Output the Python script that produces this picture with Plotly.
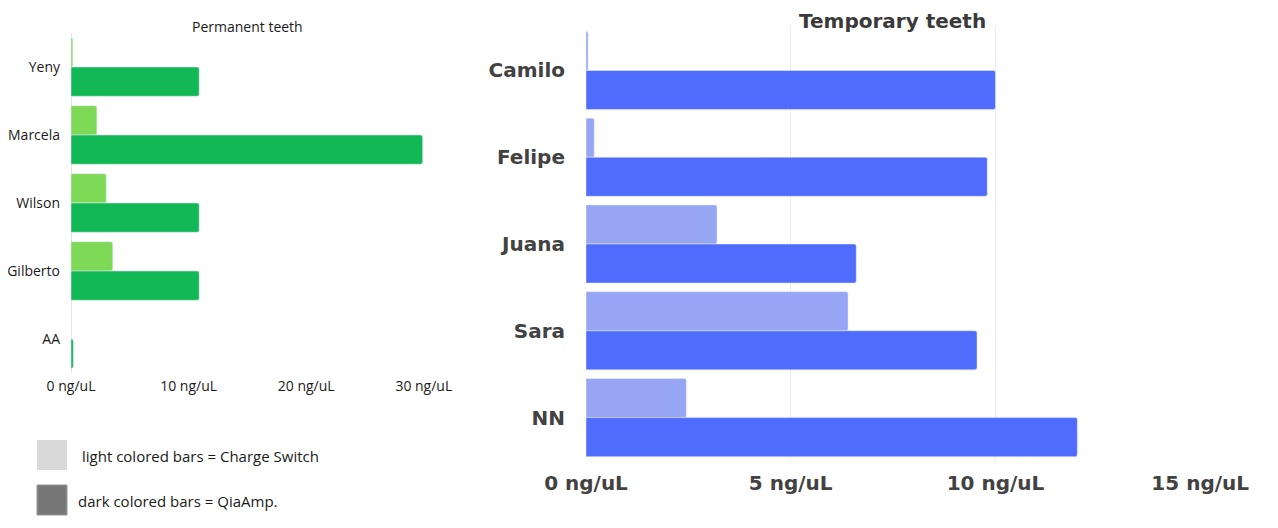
import plotly.graph_objects as go

W, H = 1278, 528
# the page body has an 8px margin, so the figure is drawn 8px in from the window edge
PAD = 8
FW, FH = W - 2 * PAD, H - 2 * PAD

# permanent teeth (ng/uL)
perm_names = ["Yeny", "Marcela", "Wilson", "Gilberto", "AA"]
perm_charge = [0.15, 2.2, 3.0, 3.55, 0.0]
perm_qia = [10.9, 29.9, 10.9, 10.9, 0.2]

# temporary teeth (ng/uL)
temp_names = ["Camilo", "Felipe", "Juana", "Sara", "NN"]
temp_charge = [0.05, 0.2, 3.2, 6.4, 2.45]
temp_qia = [10.0, 9.8, 6.6, 9.55, 12.0]

perm_ticks = [0, 10, 20, 30]
temp_ticks = [0, 5, 10, 15]


def px(x):
    return (x - PAD) / FW


def py(y):
    return 1 - (y - PAD) / FH


fig = go.Figure()

# left panel
fig.add_trace(go.Bar(y=perm_names, x=perm_charge, orientation="h", width=0.43, offset=-0.43,
                     marker=dict(color="#7ed957", cornerradius=2), xaxis="x", yaxis="y",
                     name="Charge Switch", showlegend=False, hoverinfo="x+y"))
fig.add_trace(go.Bar(y=perm_names, x=perm_qia, orientation="h", width=0.43, offset=0,
                     marker=dict(color="#12b856", cornerradius=2), xaxis="x", yaxis="y",
                     name="QiaAmp.", showlegend=False, hoverinfo="x+y"))

# right panel
fig.add_trace(go.Bar(y=temp_names, x=temp_charge, orientation="h", width=0.45, offset=-0.45,
                     marker=dict(color="#96a6f4", cornerradius=2), xaxis="x2", yaxis="y2",
                     name="Charge Switch", showlegend=False, hoverinfo="x+y"))
fig.add_trace(go.Bar(y=temp_names, x=temp_qia, orientation="h", width=0.45, offset=0,
                     marker=dict(color="#4f6cfc", cornerradius=2), xaxis="x2", yaxis="y2",
                     name="QiaAmp.", showlegend=False, hoverinfo="x+y"))

left_font = dict(family="Open Sans, sans-serif", size=14, color="#1a1a1a")
right_font = dict(family="DejaVu Sans, sans-serif", size=20, color="#424242", weight="bold")

fig.update_layout(
    width=FW, height=FH,
    margin=dict(l=0, r=0, t=0, b=0),
    paper_bgcolor="white", plot_bgcolor="white",
    barmode="overlay",
    xaxis=dict(domain=[px(71), px(425)], range=[0, 30.1], anchor="y", automargin=False,
               tickvals=perm_ticks, ticktext=[f"{v} ng/uL" for v in perm_ticks],
               showgrid=False, zeroline=True, zerolinecolor="#e4e4e4", zerolinewidth=1,
               tickfont=left_font, ticklabelstandoff=3, showline=False),
    yaxis=dict(domain=[py(373), py(33)], autorange="reversed", anchor="x", automargin=False,
               tickfont=left_font, ticklabelstandoff=10, showgrid=False, showline=False),
    xaxis2=dict(domain=[px(586), px(1201)], range=[0, 15.02], anchor="y2", automargin=False,
                tickvals=temp_ticks, ticktext=[f"{v} ng/uL" for v in temp_ticks],
                showgrid=True, gridcolor="#ececec", gridwidth=1, zeroline=False,
                tickfont=right_font, ticklabelstandoff=8, showline=False),
    yaxis2=dict(domain=[py(461), py(27)], autorange="reversed", anchor="x2", automargin=False,
                tickfont=right_font, ticklabelstandoff=20, showgrid=False, showline=False),
    annotations=[
        dict(text="Permanent teeth", x=px(247), y=py(26), xref="paper", yref="paper",
             showarrow=False, xanchor="center", yanchor="middle",
             font=dict(family="Open Sans, sans-serif", size=14, color="#1a1a1a")),
        dict(text="Temporary teeth", x=px(892), y=py(8), xref="paper", yref="paper",
             showarrow=False, xanchor="center", yanchor="top", borderpad=0,
             font=dict(family="DejaVu Sans, sans-serif", size=20, color="#3a3a3a", weight="bold")),
        dict(text="light colored bars = Charge Switch", x=px(80), y=py(456), xref="paper", yref="paper",
             showarrow=False, xanchor="left", yanchor="middle",
             font=dict(family="Open Sans, sans-serif", size=15, color="#1a1a1a")),
        dict(text="dark colored bars = QiaAmp.", x=px(76), y=py(501), xref="paper", yref="paper",
             showarrow=False, xanchor="left", yanchor="middle",
             font=dict(family="Open Sans, sans-serif", size=15, color="#1a1a1a")),
    ],
    shapes=[
        dict(type="rect", xref="paper", yref="paper", x0=px(37), x1=px(67), y0=py(470), y1=py(440),
             fillcolor="#d9d9d9", line=dict(width=0)),
        dict(type="rect", xref="paper", yref="paper", x0=px(37), x1=px(67), y0=py(515), y1=py(485),
             fillcolor="#777777", line=dict(color="#9a9a9a", width=1)),
    ],
)

fig.write_html("out.html")
